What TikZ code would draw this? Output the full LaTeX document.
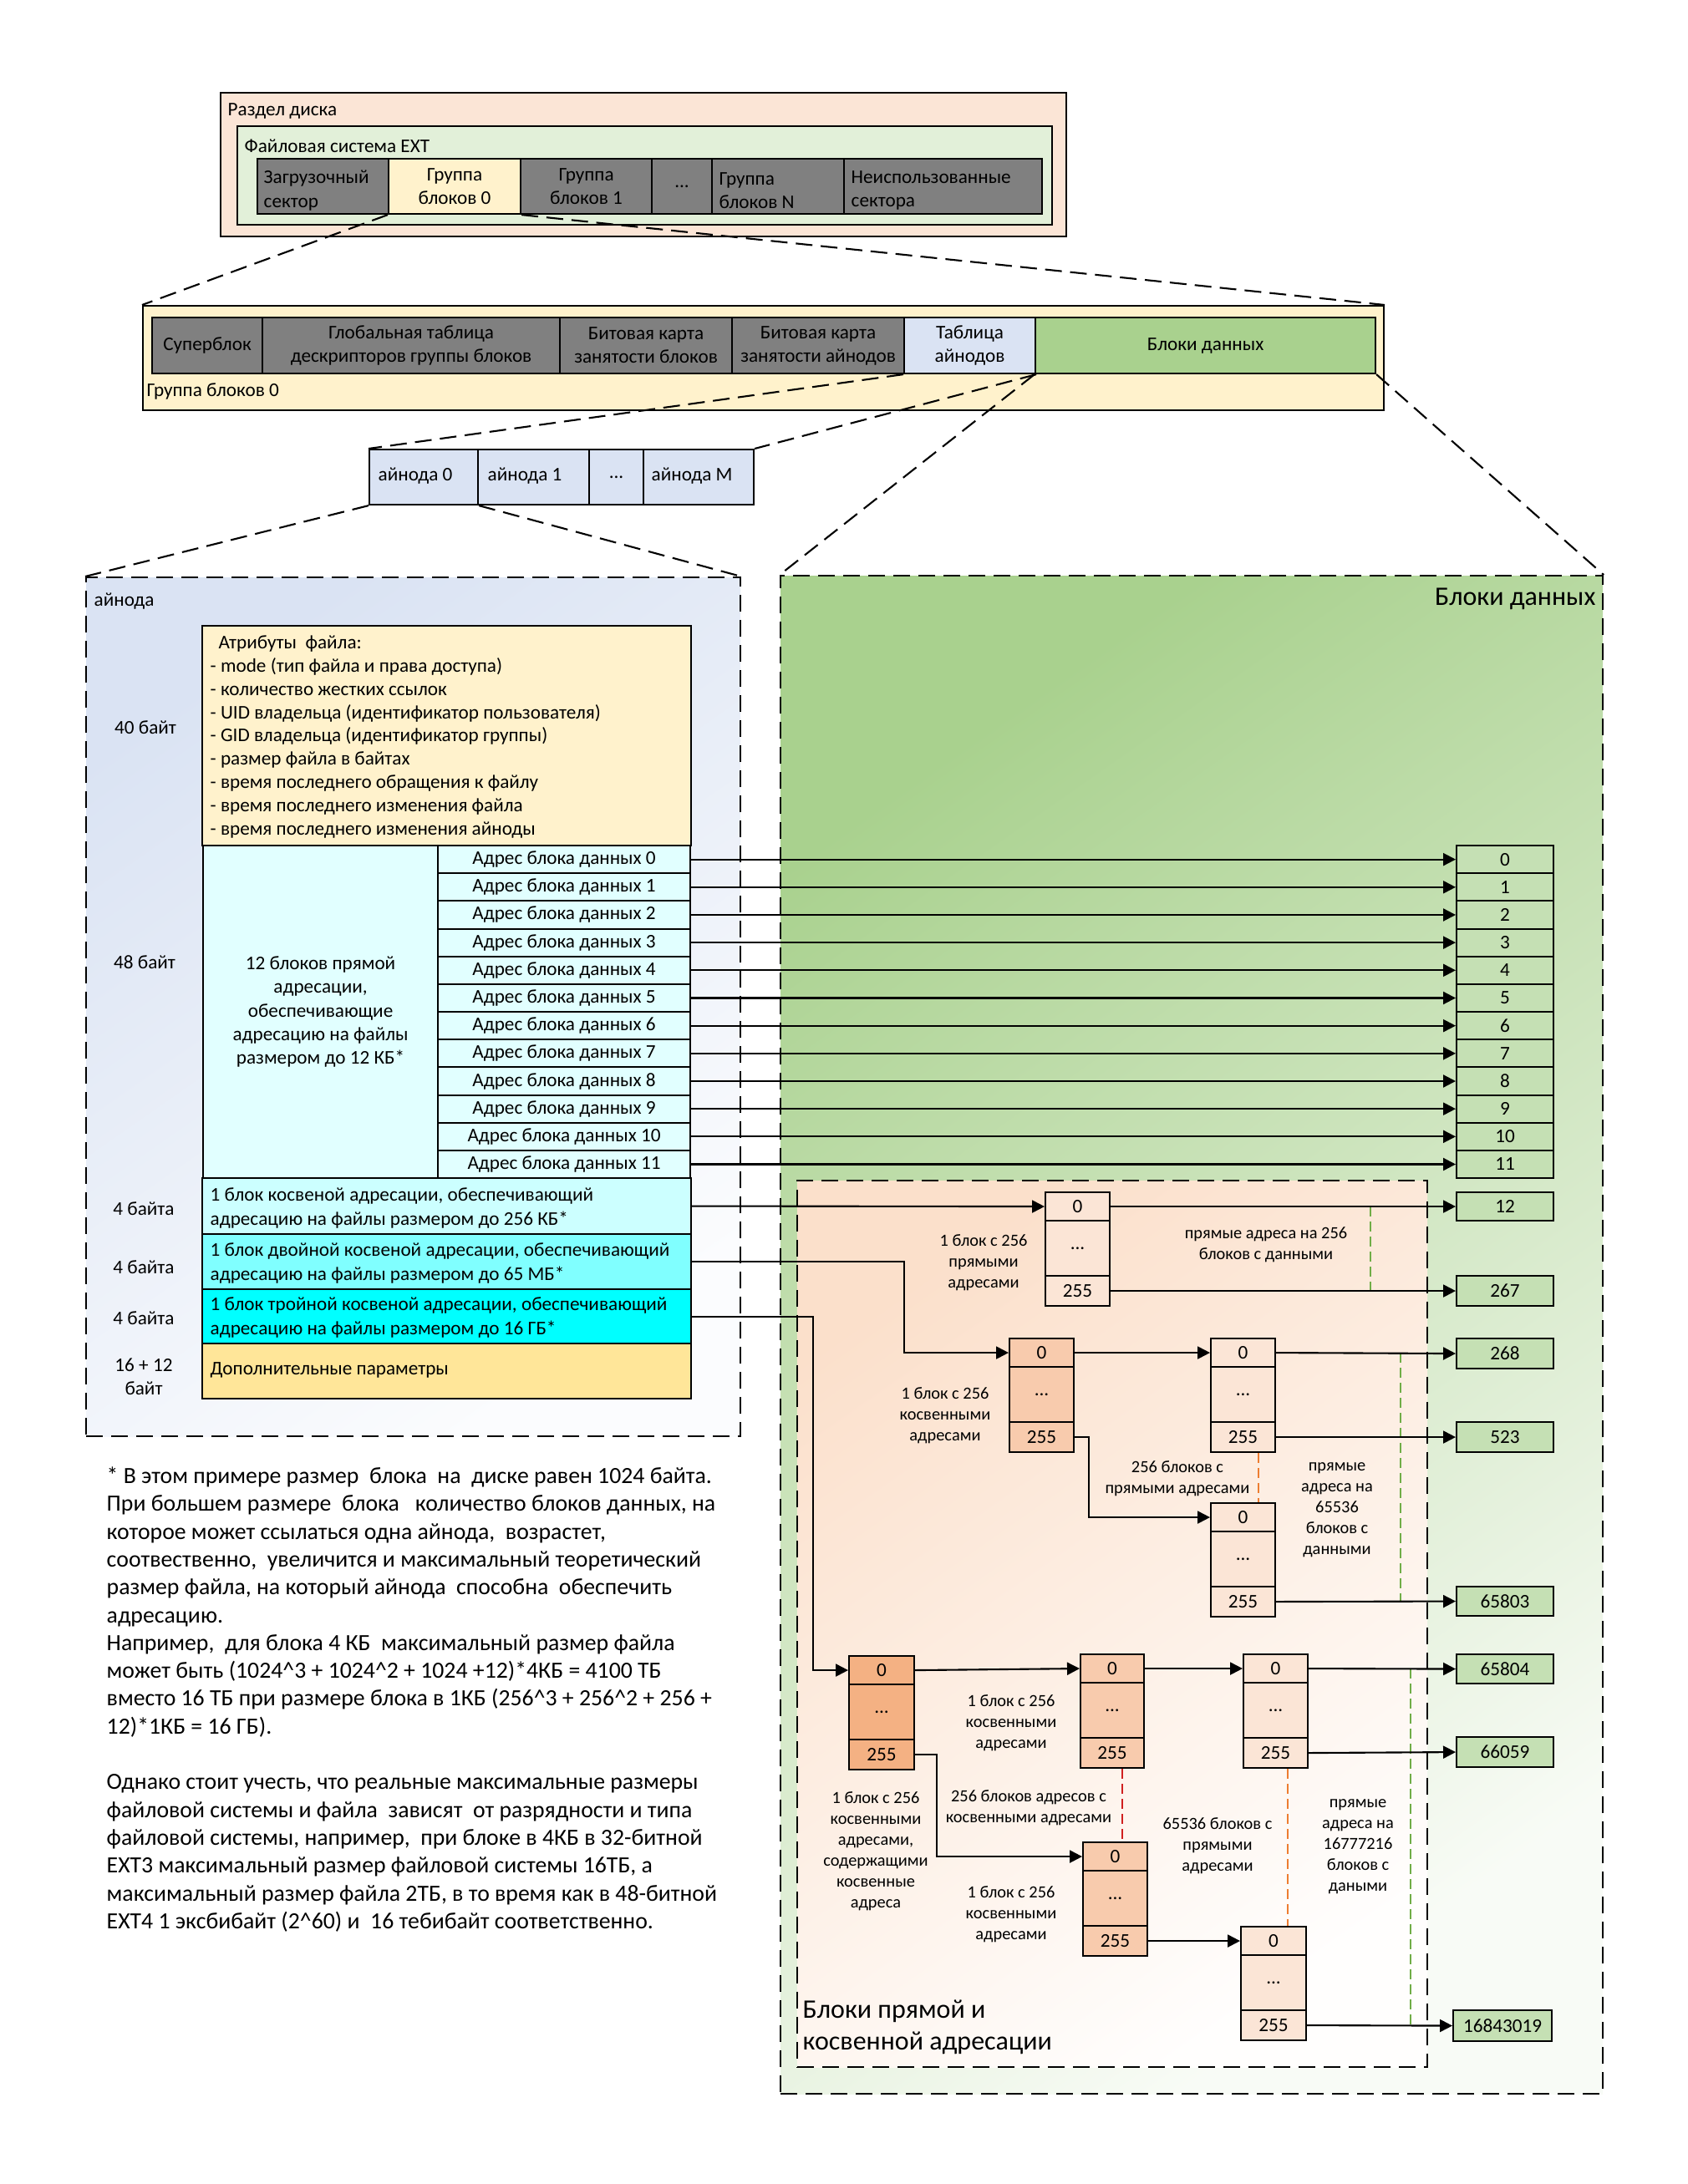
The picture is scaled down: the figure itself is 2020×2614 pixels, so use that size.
\documentclass[tikz,border=0pt]{standalone}
\usepackage{fontspec}
\setmainfont{Carlito}
\usetikzlibrary{arrows.meta,calc}
\definecolor{cPeach}{HTML}{FBE5D6}
\definecolor{cLGreen}{HTML}{E2F0D9}
\definecolor{cGray}{HTML}{808080}
\definecolor{cYel}{HTML}{FFF2CC}
\definecolor{cBlue}{HTML}{DAE3F3}
\definecolor{cGreen}{HTML}{A9D18E}
\definecolor{cCellG}{HTML}{C5E0B4}
\definecolor{cCyan0}{HTML}{E1FFFF}
\definecolor{cCyan1}{HTML}{CCFFFF}
\definecolor{cCyan2}{HTML}{80FFFF}
\definecolor{cCyan3}{HTML}{00FFFF}
\definecolor{cGold}{HTML}{FFE699}
\definecolor{cOr1}{HTML}{FBE5D6}
\definecolor{cOr2}{HTML}{F8CBAD}
\definecolor{cOr3}{HTML}{F4B183}
\definecolor{cGreenD}{HTML}{70AD47}
\definecolor{cOrangeD}{HTML}{ED7D31}
\definecolor{cRedD}{HTML}{D02020}
\newcommand\fmain{\fontsize{6.6}{8}\selectfont}
\newcommand\fsmall{\fontsize{5.8}{7.1}\selectfont}
\newcommand\fbig{\fontsize{9.1}{10.8}\selectfont}
\newcommand\fnote{\fontsize{7.9}{9.48}\selectfont}
\newcommand\rbox[7]{\node[#1, anchor=north west, inner sep=0pt, minimum width={((#5)-(#3))*0.1mm}, minimum height={((#6)-(#4))*0.1mm}] (#2) at (#3,#4) {#7};}
\newcommand\ablock[5]{%
  \rbox{bx,fill=#5}{#1a}{#2}{#4}{#3}{#4+34}{0}
  \rbox{bx,fill=#5}{#1b}{#2}{#4+34}{#3}{#4+100}{...}
  \rbox{bx,fill=#5}{#1c}{#2}{#4+100}{#3}{#4+136}{255}}
\begin{document}
\begin{tikzpicture}[x=0.1mm,y=-0.1mm,
  every node/.style={font=\fmain},
  bx/.style={draw=black,line width=0.6pt,align=center},
  zl/.style={line width=0.6pt,dash pattern=on 2mm off 1mm},
  arr/.style={line width=0.6pt,-{Triangle[length=1.5mm,width=1.5mm]}},
  gdash/.style={draw=cGreenD,line width=0.45pt,dash pattern=on 1.2mm off 0.6mm},
  odash/.style={draw=cOrangeD,line width=0.45pt,dash pattern=on 1.2mm off 0.6mm},
  rdash/.style={draw=cRedD,line width=0.45pt,dash pattern=on 1.2mm off 0.6mm},
  lt/.style={anchor=west,align=left,inner sep=0pt},
  ct/.style={align=center,inner sep=0pt},
  sm/.style={ct,font=\fsmall}]
\fill[white] (0,0) rectangle (2020,2614);
\useasboundingbox (0,0) rectangle (2020,2614);

% ---------- disk partition ----------
\rbox{bx,fill=cPeach}{part}{263}{110}{1275}{282}{}
\node[lt] (partt) at (272,133) {Раздел диска};
\rbox{bx,fill=cLGreen}{fs}{283}{150}{1258}{268}{}
\node[lt] (fst) at (292,175) {Файловая система EXT};
\rbox{bx,fill=cGray}{boot}{307}{189}{464}{255}{}
\node[lt] (boott) at (315,228) {Загрузочный\\сектор};
\rbox{bx,fill=cYel}{g0}{464}{189}{622}{255}{Группа\\блоков 0}
\rbox{bx,fill=cGray}{g1}{622}{189}{779}{255}{Группа\\блоков 1}
\rbox{bx,fill=cGray}{gd}{779}{189}{851}{255}{...}
\rbox{bx,fill=cGray}{gN}{851}{189}{1009}{255}{}
\node[lt] (gNt) at (860,228) {Группа\\блоков N};
\rbox{bx,fill=cGray}{un}{1009}{189}{1246}{255}{}
\node[lt] (unt) at (1018,228) {Неиспользованные\\сектора};

% ---------- block group ----------
\rbox{bx,fill=cYel}{grp}{170}{365}{1655}{490}{}
\node[lt] (grpt) at (175,468) {Группа блоков 0};
\rbox{bx,fill=cGray}{sb}{181}{379}{313}{446}{Суперблок}
\rbox{bx,fill=cGray}{gdt}{313}{379}{669}{446}{Глобальная таблица\\дескрипторов группы блоков}
\rbox{bx,fill=cGray}{bbm}{669}{379}{875}{446}{Битовая карта\\занятости блоков}
\rbox{bx,fill=cGray}{ibm}{875}{379}{1081}{446}{Битовая карта\\занятости айнодов}
\rbox{bx,fill=cBlue}{itab}{1081}{379}{1238}{446}{Таблица\\айнодов}
\rbox{bx,fill=cGreen}{dat}{1238}{379}{1645}{446}{Блоки данных}

\draw[zl] (g0.south west) -- (grp.north west);
\draw[zl] (g0.south east) -- (grp.north east);

% ---------- inode table ----------
\rbox{bx,fill=cBlue}{i0}{441}{537}{571}{603}{}
\node[lt] (i0t) at (452,570) {айнода 0};
\rbox{bx,fill=cBlue}{i1}{571}{537}{704}{603}{}
\node[lt] (i1t) at (583,570) {айнода 1};
\rbox{bx,fill=cBlue}{id}{704}{537}{769}{603}{...}
\rbox{bx,fill=cBlue}{iM}{769}{537}{901}{603}{}
\node[lt] (iMt) at (779,570) {айнода M};
\draw[zl] (itab.south west) -- (i0.north west);
\draw[zl] (itab.south east) -- (iM.north east);

% ---------- data blocks area ----------
\rbox{zl,draw=black,top color=cGreen,bottom color=white!92!cGreen,shading angle=35}{darea}{933}{688}{1917}{2505}{}
\node[anchor=east,inner sep=0pt,font=\fbig] (dareat) at (1910,717) {Блоки данных};
\draw[zl] (dat.south west) -- (darea.north west);
\draw[zl] (dat.south east) -- (darea.north east);

\rbox{zl,draw=black,top color=cPeach!95!orange,bottom color=white!95!cPeach,shading angle=35}{iarea}{953}{1412}{1707}{2473}{}
\node[lt,font=\fbig] (iareat) at (960,2426) {Блоки прямой и\\косвенной адресации};

% ---------- inode detail ----------
\rbox{zl,draw=black,top color=cBlue,bottom color=white!90!cBlue,shading angle=35}{inode}{102}{690}{885}{1718}{}
\node[lt] (inodet) at (112,720) {айнода};
\draw[zl] (i0.south west) -- (inode.north west);
\draw[zl] (i0.south east) -- (inode.north east);

\rbox{bx,fill=cYel}{attr}{241}{748}{826}{1011}{}
\node[lt,font=\fontsize{6.6}{7.94}\selectfont] (attrt) at (251,882) {\hspace*{1mm}Атрибуты~ файла:\\- mode (тип файла и права доступа)\\- количество жестких ссылок\\- UID владельца (идентификатор пользователя)\\- GID владельца (идентификатор группы)\\- размер файла в байтах\\- время последнего обращения к файлу\\- время последнего изменения файла\\- время последнего изменения айноды};
\node[ct] (b40) at (174,871) {40 байт};

\rbox{bx,fill=cCyan0}{dir}{242}{1011}{523}{1409}{12 блоков прямой\\адресации,\\обеспечивающие\\адресацию на файлы\\размером до 12 КБ*}
\node[ct] (b48) at (173,1152) {48 байт};
\foreach \i in {0,...,11}{
  \rbox{bx,fill=cCyan0}{a\i}{523}{1011+33.17*\i}{825}{1011+33.17*\i+33.17}{Адрес блока данных \i}
  \rbox{bx,fill=cCellG}{d\i}{1742}{1011+33.17*\i}{1858}{1011+33.17*\i+33.17}{\i}
}
\rbox{bx,fill=cCyan1}{ind1}{241}{1409}{826}{1476}{}
\node[lt] (ind1t) at (251,1446) {1 блок косвеной адресации, обеспечивающий\\адресацию на файлы размером до 256 КБ*};
\rbox{bx,fill=cCyan2}{ind2}{241}{1476}{826}{1542}{}
\node[lt] (ind2t) at (251,1512) {1 блок двойной косвеной адресации, обеспечивающий\\адресацию на файлы размером до 65 МБ*};
\rbox{bx,fill=cCyan3}{ind3}{241}{1542}{826}{1607}{}
\node[lt] (ind3t) at (251,1577) {1 блок тройной косвеной адресации, обеспечивающий\\адресацию на файлы размером до 16 ГБ*};
\rbox{bx,fill=cGold}{ext}{241}{1607}{826}{1673}{}
\node[lt] (extt) at (251,1640) {Дополнительные параметры};
\node[ct] (b4a) at (172,1447) {4 байта};
\node[ct] (b4b) at (172,1517) {4 байта};
\node[ct] (b4c) at (172,1578) {4 байта};
\node[ct] (b28) at (172,1648) {16 + 12\\байт};

% ---------- data cells (indirect) ----------
\rbox{bx,fill=cCellG}{d12}{1742}{1426}{1858}{1460}{12}
\rbox{bx,fill=cCellG}{d267}{1742}{1526}{1858}{1562}{267}
\rbox{bx,fill=cCellG}{d268}{1742}{1601}{1858}{1637}{268}
\rbox{bx,fill=cCellG}{d523}{1742}{1701}{1858}{1737}{523}
\rbox{bx,fill=cCellG}{d65803}{1742}{1898}{1858}{1933}{65803}
\rbox{bx,fill=cCellG}{d65804}{1742}{1979}{1858}{2014}{65804}
\rbox{bx,fill=cCellG}{d66059}{1742}{2078}{1858}{2114}{66059}
\rbox{bx,fill=cCellG}{dlast}{1738}{2405}{1856}{2442}{16843019}

% ---------- address blocks ----------
\ablock{S}{1250}{1327}{1426}{cOr1}
\ablock{Da}{1207}{1284}{1601}{cOr2}
\ablock{Db}{1448}{1525}{1601}{cOr1}
\ablock{Dc}{1448}{1525}{1798}{cOr1}
\ablock{Ta}{1015}{1093}{1981}{cOr3}
\ablock{Tb}{1292}{1368}{1979}{cOr2}
\ablock{Tc}{1487}{1564}{1979}{cOr1}
\ablock{Td}{1295}{1372}{2204}{cOr2}
\ablock{Te}{1484}{1562}{2305}{cOr1}

% ---------- labels in indirect area ----------
\node[sm] (l1) at (1177,1511) {1 блок с 256\\прямыми\\адресами};
\node[sm] (l2) at (1515,1490) {прямые адреса на 256\\блоков с данными};
\node[sm] (l3) at (1131,1694) {1 блок с 256\\косвенными\\адресами};
\node[sm] (l4) at (1409,1770) {256 блоков с\\прямыми адресами};
\node[sm] (l5) at (1600,1807) {прямые\\адреса на\\65536\\блоков с\\данными};
\node[sm] (l6) at (1210,2062) {1 блок с 256\\косвенными\\адресами};
\node[sm] (l7) at (1231,2164) {256 блоков адресов с\\косвенными адресами};
\node[sm] (l8) at (1048,2216) {1 блок с 256\\косвенными\\адресами,\\содержащими\\косвенные\\адреса};
\node[sm] (l9) at (1457,2209) {65536 блоков с\\прямыми\\адресами};
\node[sm] (l10) at (1625,2210) {прямые\\адреса на\\16777216\\блоков с\\даными};
\node[sm] (l11) at (1210,2291) {1 блок с 256\\косвенными\\адресами};

% ---------- coloured dashed guides ----------
\coordinate (gx1) at (1640,0);
\coordinate (gx2) at (1676,0);
\coordinate (gx3) at (1688,0);
\coordinate (ox1) at (1506,0);
\coordinate (ox2) at (1541,0);
\coordinate (rx1) at (1343,0);
\draw[gdash] (Sa.east -| gx1) -- (Sc.east -| gx1);
\draw[gdash] (Dba.east -| gx2) -- (Dcc.east -| gx2);
\draw[gdash] (Tca.east -| gx3) -- (Tec.east -| gx3);
\draw[odash] (Dbc.south -| ox1) -- (Dca.north -| ox1);
\draw[odash] (Tcc.south -| ox2) -- (Tea.north -| ox2);
\draw[rdash] (Tbc.south -| rx1) -- (Tda.north -| rx1);

% ---------- connectors ----------
\foreach \i in {0,...,11}{\draw[arr] (a\i.east) -- (d\i.west);}
\coordinate (k2) at (1082,0);
\coordinate (k3) at (973,0);
\coordinate (k4) at (1303,0);
\coordinate (k5) at (1121,0);
\draw[arr] (ind1.east) -- (Sa.west);
\draw[arr] (Sa.east) -- (d12.west);
\draw[arr] (Sc.east) -- (d267.west);
\draw[arr] (ind2.east) -- (ind2.east -| k2) |- (Daa.west);
\draw[arr] (Daa.east) -- (Dba.west);
\draw[arr] (Dba.east) -- (d268.west);
\draw[arr] (Dbc.east) -- (d523.west);
\draw[arr] (Dac.east) -- (Dac.east -| k4) |- (Dca.west);
\draw[arr] (Dcc.east) -- (d65803.west);
\draw[arr] (ind3.east) -- (ind3.east -| k3) |- (Taa.west);
\draw[arr] (Taa.east) -- (Tba.west);
\draw[arr] (Tba.east) -- (Tca.west);
\draw[arr] (Tca.east) -- (d65804.west);
\draw[arr] (Tcc.east) -- (d66059.west);
\draw[arr] (Tac.east) -- (Tac.east -| k5) |- (Tda.west);
\draw[arr] (Tdc.east) -- (Tea.west);
\draw[arr] (Tec.east) -- (dlast.west);

% ---------- footnote ----------
\node[anchor=north west,align=left,inner sep=0pt,font=\fnote] (note) at (127,1755) {*~В этом примере размер~ блока~ на~ диске равен 1024 байта.\\
При большем размере~ блока~~ количество блоков данных, на\\
которое может ссылаться одна айнода,~ возрастет,\\
соотвественно,~ увеличится и максимальный теоретический\\
размер файла, на который айнода~ способна~ обеспечить\\
адресацию.\\
Например,~ для блока 4 КБ~ максимальный размер файла\\
может быть (1024\textasciicircum3 + 1024\textasciicircum2 + 1024 +12)*4КБ = 4100 ТБ\\
вместо 16 ТБ при размере блока в 1КБ (256\textasciicircum3 + 256\textasciicircum2 + 256 +\\
12)*1КБ = 16 ГБ).\\[9.48pt]
Однако стоит учесть, что реальные максимальные размеры\\
файловой системы и файла~ зависят~ от разрядности и типа\\
файловой системы, например,~ при блоке в 4КБ в 32-битной\\
EXT3 максимальный размер файловой системы 16ТБ, а\\
максимальный размер файла 2ТБ, в то время как в 48-битной\\
EXT4 1 эксбибайт (2\textasciicircum60) и~ 16 тебибайт соответственно.};
\end{tikzpicture}
\end{document}
